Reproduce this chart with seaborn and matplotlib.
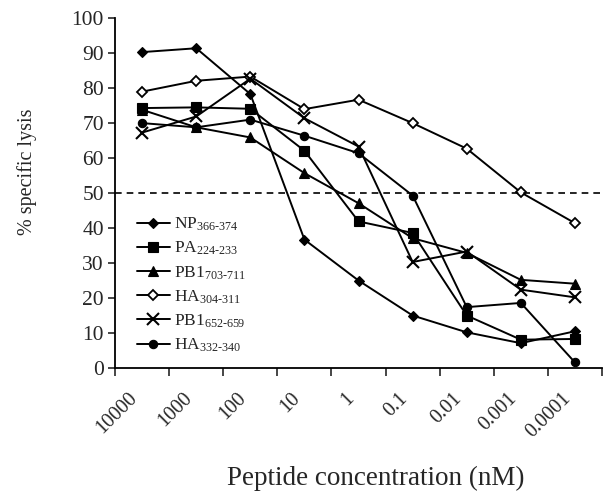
import matplotlib
matplotlib.use("Agg")
import matplotlib.pyplot as plt
import matplotlib.transforms as mtransforms
import seaborn as sns
import pandas as pd
import numpy as np

concentrations = ["10000", "1000", "100", "10", "1", "0.1", "0.01", "0.001", "0.0001"]
np_366 = [90.3, 91.4, 78.3, 36.7, 25.0, 15.0, 10.2, 7.1, 10.5]
pa_224 = [74.3, 74.5, 74.1, 62.1, 41.9, 38.6, 15.0, 8.1, 8.3]
pb1_703 = [73.8, 68.8, 65.9, 55.7, 47.1, 37.1, 32.9, 25.2, 24.1]
ha_304 = [79.0, 82.1, 83.3, 74.0, 76.7, 70.0, 62.7, 50.2, 41.4]
pb1_652 = [67.3, 71.9, 82.7, 71.4, 63.3, 30.3, 33.3, 22.4, 20.2]
ha_332 = [70.0, 68.8, 71.0, 66.4, 61.4, 49.3, 17.4, 18.6, 1.6]

labels = [r"$\mathregular{NP_{366\text{-}374}}$", r"$\mathregular{PA_{224\text{-}233}}$",
          r"$\mathregular{PB1_{703\text{-}711}}$", r"$\mathregular{HA_{304\text{-}311}}$",
          r"$\mathregular{PB1_{652\text{-}659}}$", r"$\mathregular{HA_{332\text{-}340}}$"]
series = [np_366, pa_224, pb1_703, ha_304, pb1_652, ha_332]
markers = ["D", "s", "^", "D", "x", "o"]
msizes = [5, 7, 7, 5, 8, 6]
mfcs = ["black", "black", "black", "white", "black", "black"]
mews = [0.8, 0.8, 0.8, 1.3, 1.5, 0.8]

sns.set_style("ticks")
plt.rcParams["font.family"] = ["Liberation Serif", "DejaVu Serif"]
plt.rcParams["mathtext.fontset"] = "custom"
plt.rcParams["mathtext.rm"] = "Liberation Serif"

fig = plt.figure(figsize=(6.09, 4.91), dpi=100)
ax = fig.add_axes([0.189, 0.2505, 0.7995, 0.7125])

xpos = np.arange(len(concentrations))
for lab, vals, mk, ms, fc, mew in zip(labels, series, markers, msizes, mfcs, mews):
    df = pd.DataFrame({"x": xpos, "y": vals})
    sns.lineplot(data=df, x="x", y="y", ax=ax, color="black", lw=1.4,
                 marker=mk, markersize=ms, markerfacecolor=fc,
                 markeredgecolor="black", markeredgewidth=mew, label=lab)

ax.axhline(50, color="black", ls=(0, (4, 3)), lw=1.2)

ax.set_xlim(-0.5, len(concentrations) - 0.5)
ax.set_ylim(0, 100)
ax.set_yticks(np.arange(0, 101, 10))
ax.tick_params(axis="y", labelsize=15.5, direction="out", length=5, width=1.2, pad=3)
ax.set_xticks(np.arange(-0.5, len(concentrations), 1))
ax.set_xticklabels([])
ax.set_xticks(xpos, minor=True)
ax.set_xticklabels(concentrations, minor=True, rotation=45, ha="right", va="top",
                   rotation_mode="anchor", fontsize=14.5)
ax.tick_params(axis="x", which="major", direction="out", length=6, width=1.2)
ax.tick_params(axis="x", which="minor", length=0, pad=8)
offset = mtransforms.ScaledTranslation(-0.14, -0.10, fig.dpi_scale_trans)
for t in ax.get_xticklabels(minor=True):
    t.set_transform(t.get_transform() + offset)
for s in ["top", "right"]:
    ax.spines[s].set_visible(False)
for s in ["left", "bottom"]:
    ax.spines[s].set_linewidth(1.3)
    ax.spines[s].set_color("black")

ax.set_ylabel("% specific lysis", fontsize=14.5)
ax.yaxis.set_label_coords(-0.16, 0.56)
ax.set_xlabel("Peptide concentration (nM)", fontsize=19.5)
ax.xaxis.set_label_coords(0.535, -0.28)

leg = ax.legend(loc="upper left", bbox_to_anchor=(0.03, 0.455), frameon=False,
                fontsize=12.5, handlelength=1.9, handletextpad=0.25, labelspacing=0.39,
                borderaxespad=0)

fig.savefig("out.png", dpi=100, facecolor="white")
